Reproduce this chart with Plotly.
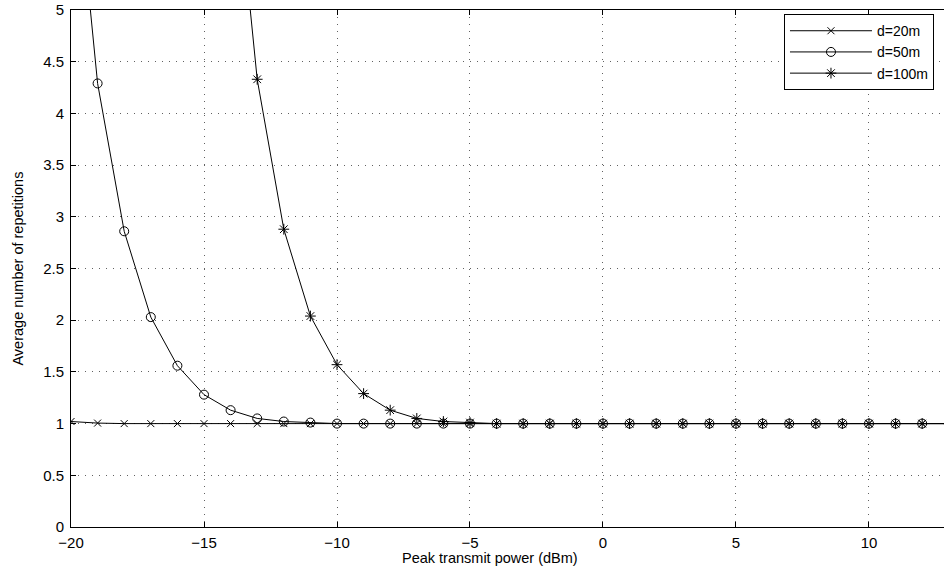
import plotly.graph_objects as go

power_dbm = list(range(-20, 14))

reps_20m = [1.02, 1.005] + [1.0] * 32
reps_50m = [6.9, 4.29, 2.86, 2.03, 1.56, 1.28, 1.13, 1.05, 1.02, 1.01] + [1.0] * 24
power_100m = list(range(-14, 14))
reps_100m = [6.9, 4.33, 2.88, 2.04, 1.57, 1.29, 1.13, 1.05, 1.02, 1.01] + [1.0] * 18

x_ticks = [-20, -15, -10, -5, 0, 5, 10]
y_ticks = [0, 0.5, 1, 1.5, 2, 2.5, 3, 3.5, 4, 4.5, 5]
y_tick_text = ["0", "0.5", "1", "1.5", "2", "2.5", "3", "3.5", "4", "4.5", "5"]

FONT = "Liberation Sans, Arial, Helvetica, sans-serif"

fig = go.Figure()
series = [
    ("d=20m", power_dbm, reps_20m, "x-thin-open", 7),
    ("d=50m", power_dbm, reps_50m, "circle-open", 9),
    ("d=100m", power_100m, reps_100m, "asterisk-open", 9),
]
for name, xs, ys, symbol, size in series:
    fig.add_trace(
        go.Scatter(
            x=xs,
            y=ys,
            mode="lines+markers",
            name=name,
            line={"color": "black", "width": 1},
            marker={"symbol": symbol, "size": size, "color": "black", "line": {"color": "black", "width": 1}},
        )
    )

axis_common = {
    "showgrid": True,
    "gridcolor": "rgba(80,80,80,0.9)",
    "gridwidth": 1,
    "griddash": "1px,6px",
    "zeroline": False,
    "ticks": "inside",
    "ticklen": 5,
    "tickcolor": "black",
    "tickfont": {"size": 15, "color": "black", "family": FONT},
    "linecolor": "black",
    "linewidth": 1,
    "showline": True,
    "automargin": False,
}

fig.update_layout(
    width=944,
    height=572,
    margin={"l": 71, "r": 0, "t": 10, "b": 45},
    paper_bgcolor="white",
    plot_bgcolor="white",
    font={"family": FONT, "color": "black"},
    showlegend=True,
    legend={
        "x": 0.8167,
        "y": 0.992,
        "xanchor": "left",
        "yanchor": "top",
        "bgcolor": "white",
        "bordercolor": "black",
        "borderwidth": 1,
        "font": {"size": 14, "family": FONT},
        "itemwidth": 82,
        "tracegroupgap": 0,
    },
    xaxis={
        **axis_common,
        "range": [-20, 12.82],
        "tickvals": x_ticks,
        "mirror": "ticks",
        "ticklabelstandoff": 2,
    },
    yaxis={
        **axis_common,
        "range": [0, 5],
        "tickvals": y_ticks,
        "ticktext": y_tick_text,
        "mirror": False,
        "ticklabelstandoff": 3,
    },
    annotations=[
        {
            "text": "Peak transmit power (dBm)",
            "xref": "paper",
            "yref": "paper",
            "x": 0.48,
            "y": -0.059,
            "xanchor": "center",
            "yanchor": "middle",
            "showarrow": False,
            "font": {"size": 14.5, "family": FONT},
        },
        {
            "text": "Average number of repetitions",
            "xref": "paper",
            "yref": "paper",
            "x": -0.0618,
            "y": 0.5,
            "xanchor": "center",
            "yanchor": "middle",
            "textangle": -90,
            "showarrow": False,
            "font": {"size": 14.5, "family": FONT},
        },
    ],
)

# drop the browser's default 8px body margin so the figure sits at the page origin
fig.write_html(
    "out.html",
    config={"displayModeBar": False},
    post_script="document.body.style.margin = '0';",
)
